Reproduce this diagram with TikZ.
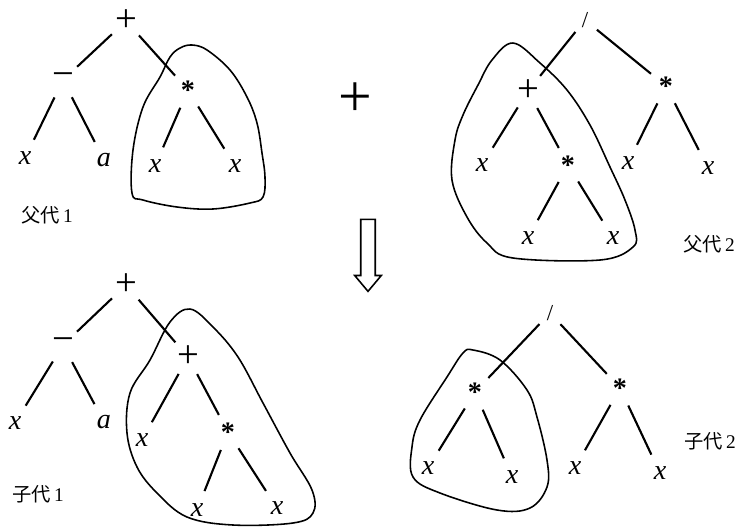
\documentclass[tikz,border=0pt]{standalone}
\usepackage{fontspec}
\setmainfont{Liberation Serif}
\newfontfamily\cjk{Noto Sans CJK SC}
\usetikzlibrary{shapes.arrows}

\begin{document}
\begin{tikzpicture}[x=0.02cm, y=-0.02cm,
    op/.style={circle, inner sep=0pt, minimum size=0.76cm,
               font=\fontsize{22}{24}\selectfont},
    mul/.style={circle, inner sep=0pt, minimum size=0.76cm,
                font=\fontsize{16}{18}\selectfont\bfseries},
    dv/.style={circle, inner sep=0pt, minimum size=0.6cm,
               font=\fontsize{13}{15}\selectfont},
    leaf/.style={circle, inner sep=0pt, minimum size=0.8cm,
                 font=\fontsize{16}{18}\selectfont\itshape},
    br/.style={line width=1.2pt},
    blob/.style={line width=0.9pt, smooth cycle, tension=0.6},
    lbl/.style={font=\fontsize{11}{13}\selectfont}
  ]
  \useasboundingbox (0,0) rectangle (735,529);

  % Parent 1
  \node[op]   (f1r) at (126,21)  {+};
  \node[op]   (f1m) at (63,80)   {−};
  \node[mul]  (f1s) at (188,90)  {*};
  \node[leaf] (f1x) at (25,158)  {x};
  \node[leaf] (f1a) at (104,160) {a};
  \node[leaf] (f1y) at (155,166) {x};
  \node[leaf] (f1z) at (235,166) {x};
  \node[lbl]  (f1l) at (47,215)  {{\cjk 父代}\,1};
  \draw[blob] plot coordinates {(170,57) (180,48) (192,45) (207,50) (230,70)
    (247,97) (257,123) (262,153) (265,177) (263,197) (250,203) (213,209)
    (177,207) (143,200) (132,193) (133,150) (143,107) (160,77)};

  % Parent 2
  \node[dv]   (f2r) at (585,20)  {/};
  \node[op]   (f2p) at (528,91)  {+};
  \node[mul]  (f2s) at (666,86)  {*};
  \node[leaf] (f2x) at (482,165) {x};
  \node[mul]  (f2q) at (568,165) {*};
  \node[leaf] (f2u) at (628,163) {x};
  \node[leaf] (f2v) at (708,168) {x};
  \node[leaf] (f2y) at (528,238) {x};
  \node[leaf] (f2z) at (613,238) {x};
  \node[lbl]  (f2l) at (709,244) {{\cjk 父代}\,2};
  \draw[blob] plot coordinates {(513,43) (540,63) (567,90) (590,125) (610,167)
    (625,200) (635,230) (633,247) (600,260) (513,258) (487,243) (467,217)
    (452,180) (455,140) (463,115) (478,85) (492,60)};

  % crossover
  \node[font=\fontsize{34}{36}\selectfont] (plus) at (355,100) {+};
  \node[draw, single arrow, shape border rotate=270, minimum height=1.44cm,
        inner sep=0.13cm, single arrow head extend=0.12cm,
        single arrow tip angle=80, line width=0.9pt] (down) at (368,251) {};

  % Child 1
  \node[op]   (c1r) at (126,285) {+};
  \node[op]   (c1m) at (63,345)  {−};
  \node[op]   (c1p) at (188,357) {+};
  \node[leaf] (c1x) at (15,423)  {x};
  \node[leaf] (c1a) at (104,422) {a};
  \node[leaf] (c1y) at (142,440) {x};
  \node[mul]  (c1s) at (228,432) {*};
  \node[leaf] (c1u) at (197,510) {x};
  \node[leaf] (c1v) at (277,508) {x};
  \node[lbl]  (c1l) at (38,494)  {{\cjk 子代}\,1};
  \draw[blob] plot coordinates {(170,322) (190,309) (213,327) (238,357)
    (263,403) (290,453) (312,490) (313,513) (293,523) (233,525) (187,517)
    (157,493) (137,467) (127,433) (130,393) (150,360)};

  % Child 2
  \node[dv]   (c2r) at (550,313) {/};
  \node[mul]  (c2s) at (475,392) {*};
  \node[mul]  (c2t) at (620,388) {*};
  \node[leaf] (c2x) at (428,468) {x};
  \node[leaf] (c2y) at (512,477) {x};
  \node[leaf] (c2u) at (575,468) {x};
  \node[leaf] (c2v) at (660,473) {x};
  \node[lbl]  (c2l) at (710,441) {{\cjk 子代}\,2};
  \draw[blob] plot coordinates {(473,350) (500,360) (527,390) (537,417)
    (547,460) (547,487) (530,508) (497,510) (440,493) (413,477) (412,447)
    (420,420) (447,377) (463,353)};

  % branches
  \foreach \a/\b in {f1r/f1m, f1r/f1s, f1m/f1x, f1m/f1a, f1s/f1y, f1s/f1z,
                     f2r/f2p, f2r/f2s, f2p/f2x, f2p/f2q, f2q/f2y, f2q/f2z,
                     f2s/f2u, f2s/f2v,
                     c1r/c1m, c1r/c1p, c1m/c1x, c1m/c1a, c1p/c1y, c1p/c1s,
                     c1s/c1u, c1s/c1v,
                     c2r/c2s, c2r/c2t, c2s/c2x, c2s/c2y, c2t/c2u, c2t/c2v}
    \draw[br] (\a) -- (\b);
\end{tikzpicture}
\end{document}
